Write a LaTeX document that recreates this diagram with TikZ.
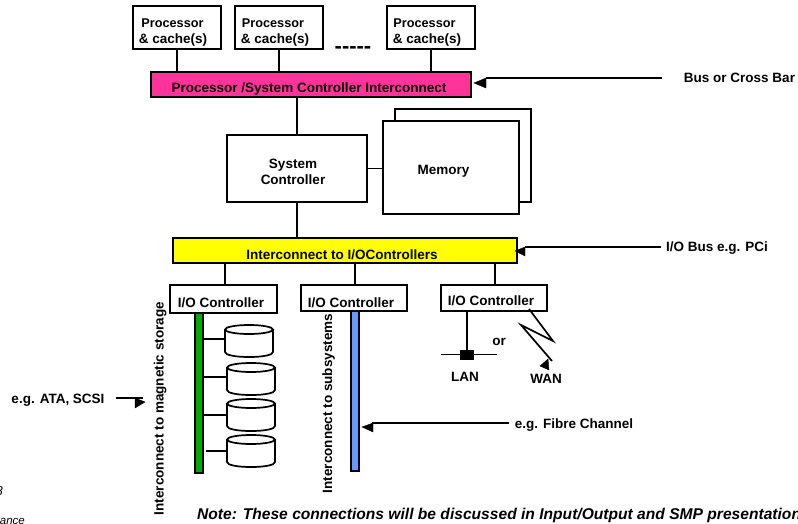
\documentclass[tikz,border=0pt]{standalone}
\usepackage{fontspec}
\setmainfont{Liberation Sans}
\usetikzlibrary{calc}
\definecolor{pinkbus}{HTML}{FF3399}
\definecolor{yellowbus}{HTML}{FFFF00}
\definecolor{greenbus}{HTML}{00AA00}
\definecolor{bluebus}{HTML}{6699FF}
\tikzset{
  box/.style={draw=black,line width=1.7pt,fill=white,inner sep=0pt,outer sep=0pt,anchor=north west},
  txt/.style={font=\fontsize{13.5}{13.5}\selectfont\bfseries,anchor=base,inner sep=0pt,text=black},
  ptxt/.style={txt,font=\fontsize{12.7}{12.7}\selectfont\bfseries},
  vtxt/.style={txt,rotate=90},
  wire/.style={draw=black,line width=1.7pt},
  tip/.style={fill=black,draw=black,line width=0.4pt},
}
\newcommand{\bx}[6]{\node[box,#6,minimum width=#4 pt,minimum height=#5 pt] (#1) at (#2,#3) {};}
\newcommand{\dsk}[3]{%
  \node[inner sep=0pt,outer sep=0pt,minimum width=48pt,minimum height=32pt,anchor=north west] (#1) at (#2,#3) {};
  \begin{scope}[shift={(#1.north west)}]
    \draw[wire,fill=white] (0,4.5) -- (0,27) .. controls (0,30) and (10,32) .. (24,32) .. controls (38,32) and (48,30) .. (48,27) -- (48,4.5);
    \draw[wire,fill=white] (24,4.5) ellipse [x radius=24,y radius=4.5];
  \end{scope}}
\begin{document}
\begin{tikzpicture}[x=1pt,y=-1pt]
\useasboundingbox (0,0) rectangle (798,524);
\clip (0,0) rectangle (798,524);
% processors
\bx{p1}{133}{6}{88}{43}{}
\bx{p2}{235}{6}{88}{43}{}
\bx{p3}{387}{6}{88}{43}{}
\node[ptxt] (p1a) at (172.5,28) {Processor};
\node[txt] (p1b) at (173,44) {\& cache(s)};
\node[ptxt] (p2a) at (273,28) {Processor};
\node[txt] (p2b) at (275,44) {\& cache(s)};
\node[ptxt] (p3a) at (424.5,28) {Processor};
\node[txt] (p3b) at (427,44) {\& cache(s)};
\node[txt,font=\fontsize{22}{22}\selectfont\bfseries] (dots) at (353,54) {-{}-{}-{}-{}-};
% pink bus
\bx{pink}{151}{72}{320}{25}{fill=pinkbus}
\node[txt] (pinkt) at (309,93) {Processor /System Controller Interconnect};
\draw[wire] (p1.south) -- (p1.south |- pink.north);
\draw[wire] (p2.south) -- (p2.south |- pink.north);
\draw[wire] (p3.south) -- (p3.south |- pink.north);
% system controller and memory
\bx{mem2}{395}{109}{136}{93}{}
\bx{mem1}{383}{121}{136}{93}{}
\node[txt] (memt) at (443.5,175) {Memory};
\bx{sys}{227}{135}{140}{67}{}
\node[txt] (syst) at (293,168) {System};
\node[txt] (systb) at (293,185) {Controller};
\draw[wire] (sys.north |- pink.south) -- (sys.north);
\draw[wire] (sys.east) -- (sys.east -| mem1.west);
% yellow bus
\bx{yel}{173}{238}{344}{25}{fill=yellowbus}
\node[txt] (yelt) at (342,259) {Interconnect to I/OControllers};
\draw[wire] (sys.south) -- (sys.south |- yel.north);
% IO controllers
\bx{io1}{170}{285}{107}{28}{}
\bx{io2}{301}{285}{106}{26}{}
\bx{io3}{441}{285}{106}{26}{}
\node[txt] (io1t) at (221,307) {I/O Controller};
\node[txt] (io2t) at (351,307) {I/O Controller};
\node[txt] (io3t) at (491,305) {I/O Controller};
\coordinate (c3) at (225,285);
\coordinate (c4) at (355,285);
\coordinate (c5) at (495,285);
\draw[wire] (c3 |- yel.south) -- (c3);
\draw[wire] (c4 |- yel.south) -- (c4);
\draw[wire] (c5 |- yel.south) -- (c5);
% vertical interconnects
\bx{green}{195}{313}{8}{160}{fill=greenbus}
\bx{blue}{351}{311}{8}{160}{fill=bluebus}
\node[vtxt] (gt) at (163.5,408.5) {Interconnect to magnetic storage};
\node[vtxt] (bt) at (332,403.5) {Interconnect to subsystems};
% disks
\coordinate (g1) at (203,339);
\coordinate (g2) at (203,377);
\coordinate (g3) at (203,415);
\coordinate (g4) at (206,451);
\dsk{d1}{225}{325}
\dsk{d2}{227}{363}
\dsk{d3}{227}{399}
\dsk{d4}{227}{435}
\draw[wire] (g1) -- (g1 -| d1.west);
\draw[wire] (g2) -- (g2 -| d2.west);
\draw[wire] (g3) -- (g3 -| d3.west);
\draw[wire] (g4) -- (g4 -| d4.west);
% LAN
\coordinate (c6) at (467,311);
\coordinate (l1) at (441,354.5);
\coordinate (l2) at (497,354.5);
\node[fill=black,minimum width=14pt,minimum height=10pt,inner sep=0pt,outer sep=0pt] (tap) at (467,355) {};
\draw[wire] (l1) -- (l2);
\draw[wire] (c6) -- (tap.north);
\node[txt] (or) at (499,345) {or};
\node[txt] (lan) at (465,381) {LAN};
\node[txt] (wan) at (546,383) {WAN};
% WAN zigzag
\coordinate (z1) at (529,309);
\coordinate (z2) at (553,341);
\coordinate (z3) at (521,325);
\coordinate (z4) at (552,361);
\draw[wire] (z1) -- (z2) -- (z3) -- (z4);
\fill[tip] (548,359) -- (540,366) -- (549,370) -- cycle;
% side arrows
\coordinate (a1) at (662,78);
\node[txt] (bus) at (739.5,83) {Bus or Cross Bar};
\draw[wire] (a1) -- (486,78);
\fill[tip] (474,83) -- (486,78) -- (486,88) -- cycle;
\coordinate (a2) at (661,247);
\node[txt] (iob) at (717,251) {I/O Bus e.g. PCi};
\draw[wire] (a2) -- (525,247);
\fill[tip] (515,251) -- (525,247) -- (525,256) -- cycle;
\node[txt] (ata) at (58,403) {e.g. ATA, SCSI};
\coordinate (a3) at (116,398);
\coordinate (a4) at (143,398);
\draw[wire] (a3) -- (a4);
\fill[tip] (135,398) -- (145,402) -- (135,408) -- cycle;
\node[txt] (fib) at (574,428) {e.g. Fibre Channel};
\coordinate (a5) at (509,423);
\coordinate (a6) at (372,423);
\draw[wire] (a5) -- (a6);
\fill[tip] (362,427) -- (373,423) -- (373,432) -- cycle;
% note
\node[txt,anchor=base west,font=\fontsize{15.6}{15.6}\selectfont\bfseries\itshape] (note) at (197,519) {Note: These connections will be discussed in Input/Output and SMP presentations};
% clipped fragments
\node[txt,anchor=base east,font=\fontsize{13}{13}\selectfont\itshape] (f1) at (3,495) {8};
\node[txt,anchor=base east,font=\fontsize{11.5}{11.5}\selectfont\itshape] (f2) at (25,524) {ance};
\end{tikzpicture}
\end{document}
